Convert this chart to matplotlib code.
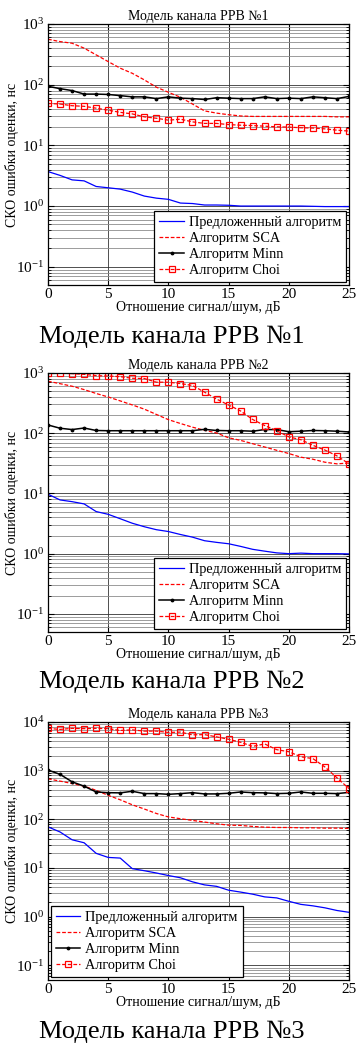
import numpy as np
import matplotlib.pyplot as plt

plt.rcParams['font.family'] = ['Liberation Serif', 'DejaVu Serif']
plt.rcParams['mathtext.fontset'] = 'stix'

snr = np.arange(0, 26)

# model 1
prop1 = [3.7, 3.2, 2.7, 2.6, 2.1, 2.0, 1.9, 1.7, 1.46, 1.35, 1.29, 1.12, 1.1, 1.04, 1.04,
         1.03, 1.0, 1.0, 1.0, 1.0, 1.0, 1.0, 0.99, 0.98, 0.98, 0.98]
sca1 = [561, 513, 482, 400, 310, 240, 187, 154, 120, 91, 75, 62, 48, 37, 34,
        32, 30.5, 30, 30, 30, 30, 30, 30, 30, 29.5, 29.5]
minn1 = [94, 86, 80, 70, 70, 69, 66, 63, 63, 59, 63, 60, 59, 57, 61,
         60, 59, 59, 63, 59, 60, 59, 63, 61, 59, 64]
choi1 = [49, 48, 45, 44, 41, 38, 35, 33, 29.5, 28, 26, 27, 24.4, 23, 23,
         22, 21.5, 21.2, 20.7, 20.2, 20, 19.5, 19.3, 18.7, 17.8, 17.2]

# model 2
prop2 = [9.7, 7.8, 7.3, 6.7, 5.0, 4.5, 3.8, 3.2, 2.8, 2.5, 2.33, 2.08, 1.88, 1.64, 1.54,
         1.46, 1.32, 1.18, 1.1, 1.03, 1.0, 1.02, 1.0, 1.0, 1.0, 0.99]
sca2 = [730, 665, 603, 530, 457, 400, 344, 295, 251, 205, 168, 145, 126, 112, 101,
        84, 76, 67, 59, 52, 46, 40, 37, 33, 31, 32]
minn2 = [137, 121, 115, 122, 111, 110, 110, 110, 110, 110, 110, 110, 110, 116, 111,
         110, 110, 108, 115, 115, 106, 108, 111, 110, 108, 105]
choi2 = [1000, 1000, 975, 950, 904, 890, 870, 817, 810, 703, 703, 668, 620, 481, 369,
         294, 234, 169, 134, 110, 87, 78, 63, 52.5, 42, 31]

# model 3
prop3 = [70, 55, 38, 33, 20, 16.5, 16, 9.7, 8.8, 7.9, 7.0, 6.3, 5.2, 4.5, 4.2,
         3.5, 3.2, 2.9, 2.55, 2.43, 2.07, 1.79, 1.67, 1.52, 1.34, 1.23]
sca3 = [680, 610, 545, 480, 395, 311, 252, 199, 163, 132, 112, 103, 95, 88, 81,
        76, 75, 71.5, 69, 68, 68, 67, 67, 66, 66, 65]
minn3 = [1030, 840, 590, 480, 365, 353, 350, 377, 338, 338, 327, 338, 353, 333, 333,
         343, 365, 353, 350, 338, 343, 365, 343, 343, 338, 358]
choi3 = [7400, 7040, 7400, 7300, 7400, 7300, 6700, 6900, 6500, 6500, 6100, 6200, 5450, 5500, 4950,
         4420, 3830, 3160, 3540, 2700, 2450, 1930, 1770, 1190, 714, 428]

labels = ['Предложенный алгоритм', 'Алгоритм SCA', 'Алгоритм Minn', 'Алгоритм Choi']
titles = ['Модель канала РРВ №1', 'Модель канала РРВ №2', 'Модель канала РРВ №3']

W, H = 356, 1045
fig = plt.figure(figsize=(W / 100, H / 100), dpi=100)

# (top px, bottom px, ymax, series, legend position)
panels = [
    (24, 285, 1e3, (prop1, sca1, minn1, choi1), 'lower right'),
    (373, 632, 1e3, (prop2, sca2, minn2, choi2), 'lower right'),
    (722, 980, 1e4, (prop3, sca3, minn3, choi3), 'lower left'),
]
caption_y = [337, 682, 1032]
left, right = 48, 349

for i, (top, bot, ymax, series, loc) in enumerate(panels):
    ax = fig.add_axes([left / W, 1 - bot / H, (right - left) / W, (bot - top) / H])
    prop, sca, minn, choi = series
    ax.semilogy(snr, prop, color='#0000ff', lw=0.9, label=labels[0])
    ax.semilogy(snr, sca, color='#ff0000', lw=0.9, ls=(0, (3, 1.5)), label=labels[1])
    ax.semilogy(snr, minn, color='black', lw=1.1, marker='.', ms=3.5, label=labels[2])
    ax.semilogy(snr, choi, color='#ff0000', lw=0.9, ls=(0, (3, 1.5)), marker='s', ms=4.5,
                mfc='none', mec='#ff0000', mew=0.9, label=labels[3])
    ax.set_xlim(0, 25)
    ax.set_ylim(0.05, ymax)
    ax.set_xticks([0, 5, 10, 15, 20, 25])
    ax.grid(True, which='major', color='#333333', lw=0.6)
    ax.grid(True, which='minor', axis='y', color='#8c8c8c', lw=0.6)
    ax.tick_params(which='both', direction='in', top=True, right=True, labelsize=11)
    ax.tick_params(which='major', length=4, pad=2.5)
    ax.tick_params(which='minor', length=2.5)
    for s in ax.spines.values():
        s.set_linewidth(0.9)
    ax.set_title(titles[i], fontsize=10, pad=3)
    ax.set_xlabel('Отношение сигнал/шум, дБ', fontsize=10, labelpad=0)
    ax.set_ylabel('СКО ошибки оценки, нс', fontsize=10)
    ax.yaxis.set_label_coords(-0.097, 0.5)
    leg = ax.legend(loc=loc, fontsize=10.3, fancybox=False, framealpha=1,
                    edgecolor='black', borderpad=0.35, labelspacing=0.22,
                    handlelength=1.7, handletextpad=0.35, borderaxespad=0.2)
    leg.get_frame().set_linewidth(0.9)
    fig.text(172 / W, 1 - caption_y[i] / H, titles[i], fontsize=19,
             ha='center', va='center')

fig.savefig('out.png', dpi=100)
